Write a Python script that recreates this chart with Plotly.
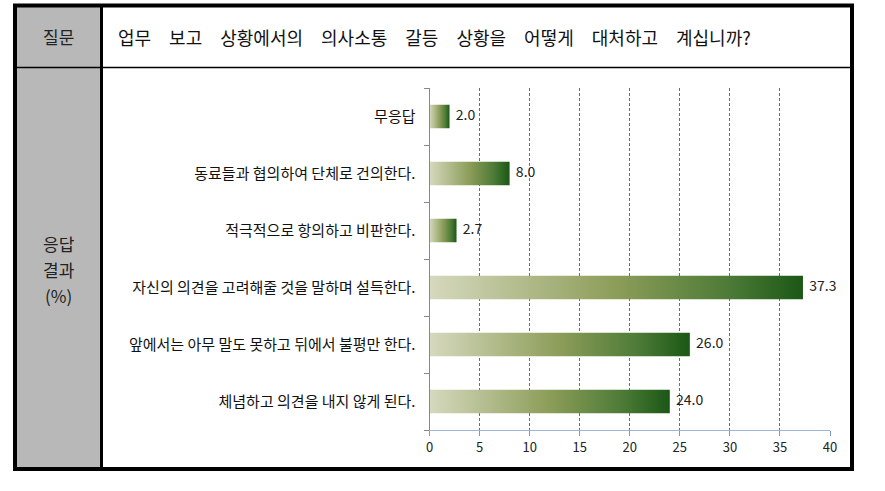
import plotly.graph_objects as go

# ---- data ----
categories = [
    "무응답",
    "동료들과 협의하여 단체로 건의한다.",
    "적극적으로 항의하고 비판한다.",
    "자신의 의견을 고려해줄 것을 말하며 설득한다.",
    "앞에서는 아무 말도 못하고 뒤에서 불평만 한다.",
    "체념하고 의견을 내지 않게 된다.",
]
values = [2.0, 8.0, 2.7, 37.3, 26.0, 24.0]
x_ticks = [0, 5, 10, 15, 20, 25, 30, 35, 40]
question_label = "질문"
question_words = ["업무", "보고", "상황에서의", "의사소통", "갈등", "상황을", "어떻게", "대처하고", "계십니까?"]
answer_label = ["응답", "결과", "(%)"]

# ---- layout helpers ----
W, H = 885, 491
def px(x):
    return x / W
def py(y):
    return 1 - y / H

FONT = "Noto Sans CJK KR"
half = 0.205
colorscale = [[0, "#d6d9be"], [0.5, "#8c9d59"], [0.8, "#4d7b37"], [1, "#1b5716"]]

fig = go.Figure()

for i, (cat, v) in enumerate(zip(categories, values)):
    fig.add_trace(go.Scatter(
        x=[0, v, v, 0, 0],
        y=[i - half, i - half, i + half, i + half, i - half],
        mode="lines",
        fill="toself",
        line=dict(width=0),
        fillgradient=dict(type="horizontal", colorscale=colorscale, start=0, stop=v),
        hoverinfo="skip",
        showlegend=False,
    ))

fig.add_trace(go.Scatter(
    x=values,
    y=list(range(len(values))),
    mode="text",
    text=["\u00a0\u00a0" + f"{v:.1f}" for v in values],
    textposition="middle right",
    textfont=dict(family=FONT, size=14, color="#222222"),
    cliponaxis=False,
    showlegend=False,
    hoverinfo="skip",
))

fig.update_layout(
    template="none",
    width=W, height=H,
    margin=dict(l=0, r=0, t=0, b=0, pad=0),
    paper_bgcolor="white",
    plot_bgcolor="rgba(0,0,0,0)",
    showlegend=False,
    xaxis=dict(
        domain=[px(429.5), px(830)],
        range=[0, 40],
        tickvals=x_ticks,
        showgrid=True,
        griddash="3px,2px",
        gridcolor="#3f72b8",
        gridwidth=1,
        zeroline=False,
        showline=True,
        linecolor="#9fb6d6",
        linewidth=1,
        ticks="outside",
        ticklen=5,
        tickcolor="#7f98bd",
        tickfont=dict(family=FONT, size=13, color="#222222"),
        automargin=False,
        anchor="y",
    ),
    yaxis=dict(
        domain=[py(430), py(88)],
        range=[len(categories) - 0.5, -0.5],
        tickvals=list(range(len(categories))),
        ticktext=categories,
        ticks="",
        showgrid=False,
        zeroline=False,
        showline=True,
        linecolor="#888888",
        linewidth=1,
        ticklabelstandoff=10,
        minor=dict(
            tickvals=[k - 0.5 for k in range(len(categories) + 1)],
            ticks="outside",
            ticklen=5,
            tickcolor="#888888",
            showgrid=False,
        ),
        tickfont=dict(family=FONT, size=15, color="#111111"),
        automargin=False,
        anchor="x",
    ),
)

shapes = [
    dict(type="rect", xref="paper", yref="paper", x0=px(17), x1=px(100), y0=py(467), y1=py(7),
         fillcolor="#b8b8b8", line=dict(width=0), layer="below"),
    dict(type="line", xref="paper", yref="paper", x0=px(17), x1=px(850), y0=py(67.5), y1=py(67.5),
         line=dict(color="black", width=1.5)),
    dict(type="line", xref="paper", yref="paper", x0=px(101.5), x1=px(101.5), y0=py(467), y1=py(7),
         line=dict(color="black", width=3)),
    dict(type="rect", xref="paper", yref="paper", x0=px(15), x1=px(852), y0=py(469), y1=py(5.5),
         line=dict(color="black", width=4)),
]
fig.update_layout(shapes=shapes)

annotations = [
    dict(text=question_label, x=px(58.5), y=py(37), xref="paper", yref="paper",
         showarrow=False, font=dict(family=FONT, size=17, color="#222222"),
         xanchor="center", yanchor="middle"),
    dict(text="\u3000".join(question_words), x=px(116), y=py(37), xref="paper", yref="paper",
         showarrow=False, font=dict(family=FONT, size=18, color="#111111"),
         xanchor="left", yanchor="middle"),
]
for k, (line, yy) in enumerate(zip(answer_label, [243, 269, 295])):
    annotations.append(dict(text=line, x=px(58.5), y=py(yy), xref="paper", yref="paper",
                            showarrow=False, font=dict(family=FONT, size=17, color="#222222"),
                            xanchor="center", yanchor="middle"))
fig.update_layout(annotations=annotations)

fig.write_html("out.html")
